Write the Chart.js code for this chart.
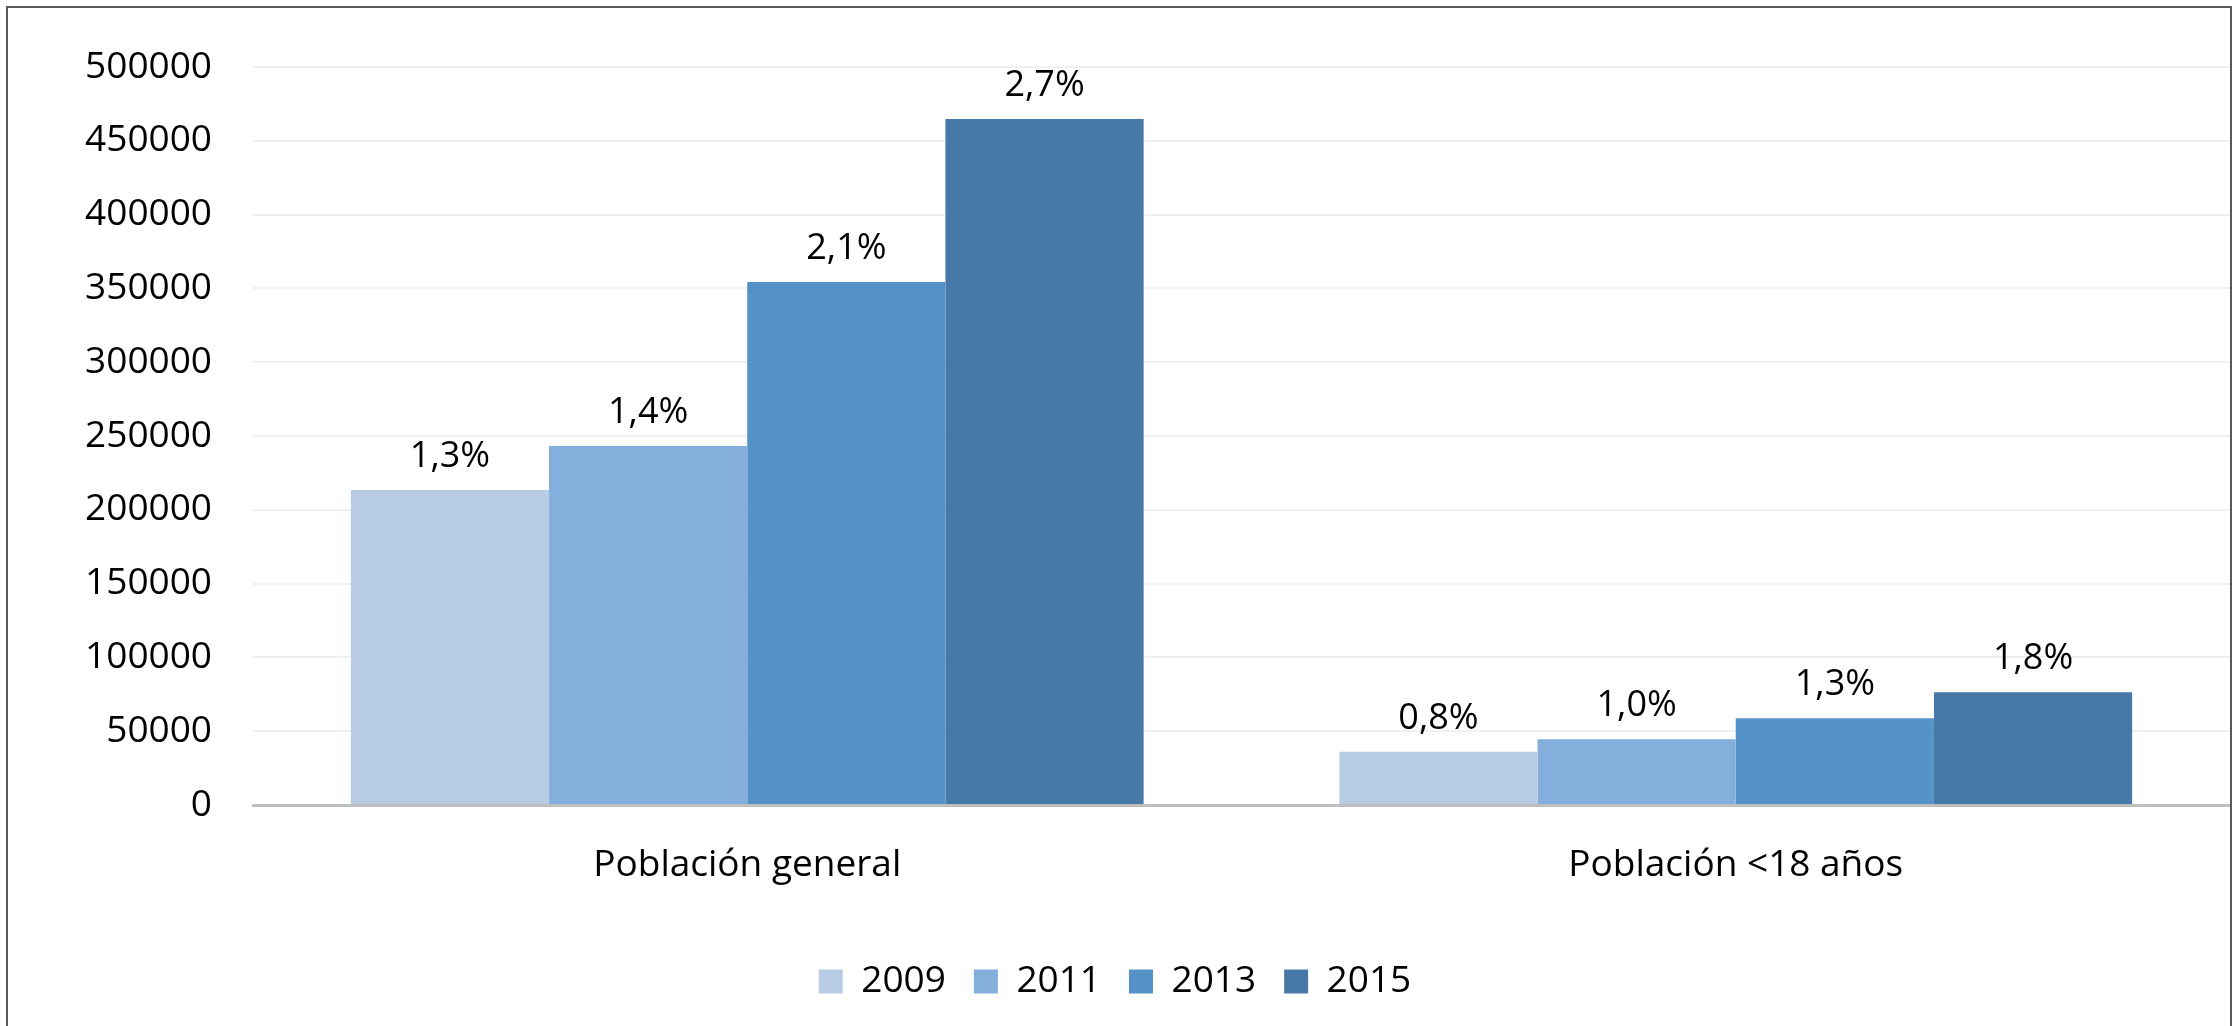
<!DOCTYPE html>
<html>
<head>
<meta charset="utf-8">
<script src="https://cdn.jsdelivr.net/npm/chart.js@4.4.1/dist/chart.umd.min.js"></script>
<style>
  html, body { margin: 0; padding: 0; background: #fff; overflow: hidden; }
  #wrap { position: relative; width: 2239px; height: 1026px; overflow: hidden; }
  #frame { position: absolute; left: 6px; top: 6px; width: 2226px; height: 1100px;
           box-sizing: border-box; border: 2px solid #595959; pointer-events: none; }
  canvas { position: absolute; left: 0; top: 0; }
</style>
</head>
<body>
<div id="wrap">
  <canvas id="chart" width="2239" height="1026"></canvas>
  <div id="frame"></div>
</div>
<script>
// DATOS
const categorias = ['Población general', 'Población <18 años'];
const anios = ['2009', '2011', '2013', '2015'];
const v2009 = [213400, 36100];
const v2011 = [243200, 44500];
const v2013 = [354300, 58700];
const v2015 = [464800, 76400];
const pct2009 = [1.3, 0.8];
const pct2011 = [1.4, 1.0];
const pct2013 = [2.1, 1.3];
const pct2015 = [2.7, 1.8];
const colores = ['#B8CCE6', '#84AEDB', '#5592C8', '#4779A8'];

const FUENTE = '"Open Sans", "Noto Sans", sans-serif';

// etiquetas encima de cada barra
const etiquetas = {
  id: 'etiquetas',
  afterDatasetsDraw(chart) {
    const pcts = [pct2009, pct2011, pct2013, pct2015];
    const ctx = chart.ctx;
    ctx.save();
    ctx.font = '36px ' + FUENTE;
    ctx.fillStyle = '#000';
    ctx.textAlign = 'center';
    ctx.textBaseline = 'alphabetic';
    chart.data.datasets.forEach((ds, i) => {
      chart.getDatasetMeta(i).data.forEach((bar, j) => {
        let txt = pcts[i][j].toFixed(1).replace('.', ',') + '%';
        ctx.fillText(txt, bar.x, bar.y - 23);
      });
    });
    ctx.restore();
  }
};

new Chart(document.getElementById('chart'), {
  type: 'bar',
  data: {
    labels: categorias,
    datasets: [
      { label: anios[0], data: v2009, backgroundColor: colores[0] },
      { label: anios[1], data: v2011, backgroundColor: colores[1] },
      { label: anios[2], data: v2013, backgroundColor: colores[2] },
      { label: anios[3], data: v2015, backgroundColor: colores[3] }
    ]
  },
  options: {
    responsive: false,
    animation: false,
    devicePixelRatio: 1,
    layout: { padding: { top: 67, right: 9, bottom: 16, left: 0 } },
    datasets: { bar: { categoryPercentage: 0.802, barPercentage: 1.0 } },
    scales: {
      x: {
        grid: { display: false },
        border: { color: '#BFBFBF', width: 3 },
        ticks: { color: '#000', font: { family: FUENTE, size: 37 }, padding: 30 },
        afterFit(scale) { scale.height = 130; }
      },
      y: {
        min: 0,
        max: 500000,
        grid: { color: '#F0F0F0', lineWidth: 2, drawTicks: false },
        border: { display: false },
        ticks: {
          stepSize: 50000,
          color: '#000',
          font: { family: FUENTE, size: 37 },
          padding: 41,
          callback: (v) => String(v)
        },
        afterFit(scale) { scale.width = 253; }
      }
    },
    plugins: {
      legend: {
        position: 'bottom',
        labels: {
          color: '#000',
          font: { family: FUENTE, size: 37 },
          boxWidth: 24,
          boxHeight: 24,
          padding: 28
        }
      },
      tooltip: { enabled: false }
    }
  },
  plugins: [etiquetas]
});
</script>
</body>
</html>
